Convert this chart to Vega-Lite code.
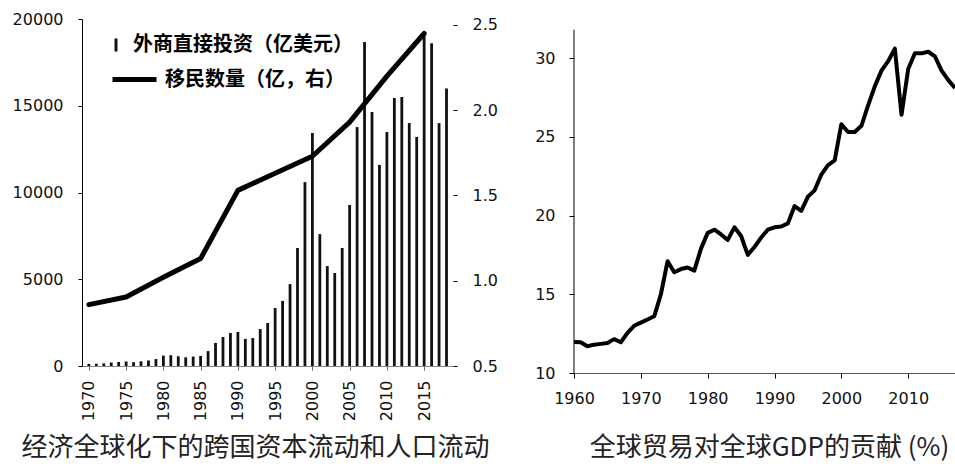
{
  "$schema": "https://vega.github.io/schema/vega-lite/v6.json",
  "background": "white",
  "padding": {"left": 12, "top": 11, "right": 0, "bottom": 12},
  "bounds": "flush",
  "spacing": 121,
  "config": {
    "view": {"stroke": null},
    "axis": {"labelFont": "DejaVu Sans", "labelFontSize": 16, "labelColor": "#111", "grid": false, "domainColor": "#000", "tickColor": "#000", "title": null, "labelFlush": false},
    "title": {"font": "Noto Sans CJK SC", "fontSize": 26, "fontWeight": "normal", "color": "#222"}
  },
  "datasets": {
    "fdi": [
      {"year": 1970, "fdi": 120}, {"year": 1971, "fdi": 130}, {"year": 1972, "fdi": 150}, {"year": 1973, "fdi": 200},
      {"year": 1974, "fdi": 230}, {"year": 1975, "fdi": 260}, {"year": 1976, "fdi": 220}, {"year": 1977, "fdi": 270},
      {"year": 1978, "fdi": 320}, {"year": 1979, "fdi": 400}, {"year": 1980, "fdi": 600}, {"year": 1981, "fdi": 620},
      {"year": 1982, "fdi": 560}, {"year": 1983, "fdi": 500}, {"year": 1984, "fdi": 540}, {"year": 1985, "fdi": 580},
      {"year": 1986, "fdi": 860}, {"year": 1987, "fdi": 1330}, {"year": 1988, "fdi": 1670}, {"year": 1989, "fdi": 1900},
      {"year": 1990, "fdi": 1960}, {"year": 1991, "fdi": 1560}, {"year": 1992, "fdi": 1610}, {"year": 1993, "fdi": 2130},
      {"year": 1994, "fdi": 2480}, {"year": 1995, "fdi": 3340}, {"year": 1996, "fdi": 3750}, {"year": 1997, "fdi": 4720},
      {"year": 1998, "fdi": 6800}, {"year": 1999, "fdi": 10600}, {"year": 2000, "fdi": 13430}, {"year": 2001, "fdi": 7600},
      {"year": 2002, "fdi": 5760}, {"year": 2003, "fdi": 5360}, {"year": 2004, "fdi": 6800}, {"year": 2005, "fdi": 9280},
      {"year": 2006, "fdi": 13770}, {"year": 2007, "fdi": 18670}, {"year": 2008, "fdi": 14640}, {"year": 2009, "fdi": 11590},
      {"year": 2010, "fdi": 13490}, {"year": 2011, "fdi": 15450}, {"year": 2012, "fdi": 15500}, {"year": 2013, "fdi": 14000},
      {"year": 2014, "fdi": 13200}, {"year": 2015, "fdi": 19100}, {"year": 2016, "fdi": 18600}, {"year": 2017, "fdi": 14000},
      {"year": 2018, "fdi": 16000}
    ],
    "mig": [
      {"year": 1970, "mig": 0.86}, {"year": 1975, "mig": 0.905}, {"year": 1980, "mig": 1.02}, {"year": 1985, "mig": 1.13},
      {"year": 1990, "mig": 1.53}, {"year": 1995, "mig": 1.63}, {"year": 2000, "mig": 1.73}, {"year": 2005, "mig": 1.93},
      {"year": 2010, "mig": 2.2}, {"year": 2015, "mig": 2.45}
    ],
    "trade": [
      {"year": 1960, "trade": 11.97}, {"year": 1961, "trade": 11.95}, {"year": 1962, "trade": 11.7}, {"year": 1963, "trade": 11.8},
      {"year": 1964, "trade": 11.85}, {"year": 1965, "trade": 11.9}, {"year": 1966, "trade": 12.15}, {"year": 1967, "trade": 11.95},
      {"year": 1968, "trade": 12.55}, {"year": 1969, "trade": 13.0}, {"year": 1970, "trade": 13.2}, {"year": 1971, "trade": 13.4},
      {"year": 1972, "trade": 13.6}, {"year": 1973, "trade": 15.0}, {"year": 1974, "trade": 17.1}, {"year": 1975, "trade": 16.4},
      {"year": 1976, "trade": 16.6}, {"year": 1977, "trade": 16.7}, {"year": 1978, "trade": 16.5}, {"year": 1979, "trade": 17.9},
      {"year": 1980, "trade": 18.9}, {"year": 1981, "trade": 19.1}, {"year": 1982, "trade": 18.8}, {"year": 1983, "trade": 18.45},
      {"year": 1984, "trade": 19.25}, {"year": 1985, "trade": 18.7}, {"year": 1986, "trade": 17.5}, {"year": 1987, "trade": 18.0},
      {"year": 1988, "trade": 18.6}, {"year": 1989, "trade": 19.1}, {"year": 1990, "trade": 19.25}, {"year": 1991, "trade": 19.3},
      {"year": 1992, "trade": 19.5}, {"year": 1993, "trade": 20.6}, {"year": 1994, "trade": 20.3}, {"year": 1995, "trade": 21.2},
      {"year": 1996, "trade": 21.6}, {"year": 1997, "trade": 22.6}, {"year": 1998, "trade": 23.2}, {"year": 1999, "trade": 23.5},
      {"year": 2000, "trade": 25.8}, {"year": 2001, "trade": 25.3}, {"year": 2002, "trade": 25.3}, {"year": 2003, "trade": 25.7},
      {"year": 2004, "trade": 27.0}, {"year": 2005, "trade": 28.2}, {"year": 2006, "trade": 29.2}, {"year": 2007, "trade": 29.8},
      {"year": 2008, "trade": 30.6}, {"year": 2009, "trade": 26.4}, {"year": 2010, "trade": 29.3}, {"year": 2011, "trade": 30.3},
      {"year": 2012, "trade": 30.3}, {"year": 2013, "trade": 30.4}, {"year": 2014, "trade": 30.1}, {"year": 2015, "trade": 29.2},
      {"year": 2016, "trade": 28.6}, {"year": 2017, "trade": 28.1}
    ]
  },
  "hconcat": [
    {
      "width": 371,
      "height": 347,
      "title": {"text": "经济全球化下的跨国资本流动和人口流动", "orient": "bottom", "anchor": "middle", "dx": -12, "offset": 14},
      "layer": [
        {
          "data": {"name": "fdi"},
          "mark": {"type": "bar", "size": 2.8},
          "encoding": {
            "x": {"field": "year", "type": "quantitative", "scale": {"domain": [1969.75, 2018.2], "nice": false, "zero": false},
                  "axis": {"values": [1970, 1975, 1980, 1985, 1990, 1995, 2000, 2005, 2010, 2015], "format": "d", "labelAngle": -90, "labelAlign": "right", "labelBaseline": "middle", "tickSize": 4, "labelPadding": 10, "domainColor": "#888", "tickColor": "#666"}},
            "y": {"field": "fdi", "type": "quantitative", "scale": {"domain": [0, 20000], "nice": false},
                  "axis": {"values": [0, 5000, 10000, 15000, 20000], "format": "d", "tickSize": 4, "labelPadding": 15}},
            "color": {"datum": "外商直接投资（亿美元）", "scale": {"range": ["#111111"]},
                      "legend": {"orient": "none", "legendX": 24, "legendY": 16, "title": null, "padding": 0, "symbolType": "M-0.23,-1H0.23V1H-0.23Z", "symbolSize": 169, "symbolStrokeWidth": 0, "labelFont": "Noto Sans CJK SC", "labelFontSize": 20, "labelFontWeight": "bold", "labelColor": "#000", "labelLimit": 400, "labelOffset": 7}}
          }
        },
        {
          "data": {"name": "mig"},
          "mark": {"type": "line", "strokeWidth": 5, "strokeJoin": "round", "strokeCap": "round"},
          "encoding": {
            "x": {"field": "year", "type": "quantitative"},
            "y": {"field": "mig", "type": "quantitative", "scale": {"domain": [0.5, 2.535], "nice": false, "zero": false},
                  "axis": {"orient": "right", "values": [0.5, 1.0, 1.5, 2.0, 2.5], "format": ".1f", "domain": false, "tickSize": 4, "labelPadding": 15}},
            "color": {"datum": "移民数量（亿，右）", "scale": {"range": ["#000000"]},
                      "legend": {"orient": "none", "legendX": 28, "legendY": 36, "title": null, "padding": 0, "symbolType": "stroke", "symbolSize": 1936, "symbolStrokeWidth": 5, "labelFont": "Noto Sans CJK SC", "labelFontSize": 20, "labelFontWeight": "bold", "labelColor": "#000", "labelLimit": 400, "labelOffset": 6}}
          }
        }
      ],
      "resolve": {"scale": {"y": "independent", "color": "independent"}, "legend": {"color": "independent"}}
    },
    {
      "width": 381,
      "height": 354,
      "title": {"text": "全球贸易对全球GDP的贡献 (%)", "orient": "bottom", "anchor": "middle", "dx": 5, "offset": 29},
      "layer": [
        {
          "data": {"values": [{}]},
          "mark": {"type": "rule", "color": "#000", "strokeWidth": 1},
          "encoding": {
            "x": {"datum": 1960, "type": "quantitative"},
            "y": {"datum": 10, "type": "quantitative"},
            "y2": {"datum": 31.8}
          }
        },
        {
          "data": {"name": "trade"},
          "mark": {"type": "line", "strokeWidth": 4, "color": "#000", "strokeJoin": "round"},
          "encoding": {
            "x": {"field": "year", "type": "quantitative", "scale": {"domain": [1960, 2017], "nice": false, "zero": false},
                  "axis": {"values": [1960, 1970, 1980, 1990, 2000, 2010], "format": "d", "labelAngle": 0, "tickSize": 5, "labelPadding": 12, "domainColor": "#555"}},
            "y": {"field": "trade", "type": "quantitative", "scale": {"domain": [10, 32.48], "nice": false, "zero": false},
                  "axis": {"values": [10, 15, 20, 25, 30], "domain": false, "tickSize": 5, "labelPadding": 14}}
          }
        }
      ]
    }
  ]
}
